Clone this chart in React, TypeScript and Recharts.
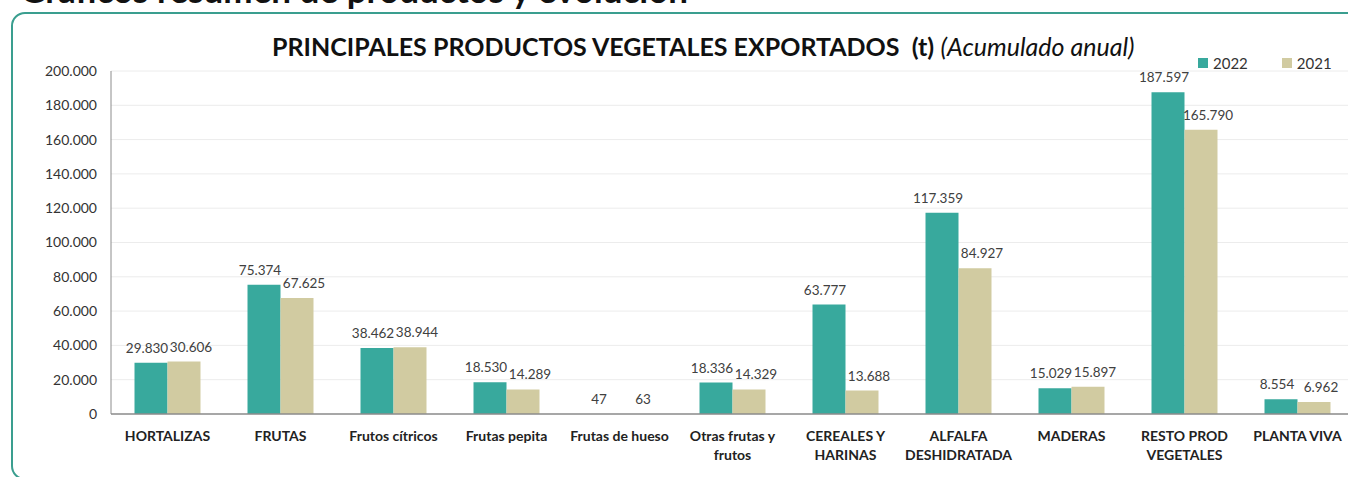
import { BarChart, Bar, XAxis, YAxis, CartesianGrid, LabelList } from 'recharts';

const categories = [
  'HORTALIZAS',
  'FRUTAS',
  'Frutos cítricos',
  'Frutas pepita',
  'Frutas de hueso',
  'Otras frutas y\nfrutos',
  'CEREALES Y\nHARINAS',
  'ALFALFA\nDESHIDRATADA',
  'MADERAS',
  'RESTO PROD\nVEGETALES',
  'PLANTA VIVA',
];
const values2022 = [29830, 75374, 38462, 18530, 47, 18336, 63777, 117359, 15029, 187597, 8554];
const values2021 = [30606, 67625, 38944, 14289, 63, 14329, 13688, 84927, 15897, 165790, 6962];
const yTicks = [0, 20000, 40000, 60000, 80000, 100000, 120000, 140000, 160000, 180000, 200000];

const TEAL = '#38a99d';
const BEIGE = '#d1cba1';
const FONT = "Lato, 'Open Sans', sans-serif";

const fmt = (v: number) => String(v).replace(/\B(?=(\d{3})+(?!\d))/g, '.');

const chartData = categories.map((name, i) => ({
  name,
  y2022: values2022[i],
  y2021: values2021[i],
}));

function CategoryTick({ x, y, payload }: { x?: number; y?: number; payload?: { value: string } }) {
  const lines = (payload?.value ?? '').split('\n');
  return (
    <text x={x} y={y} textAnchor="middle" fontFamily={FONT} fontSize={14} fontWeight={700} fill="#222">
      {lines.map((line, i) => (
        <tspan key={i} x={x} dy={19}>
          {line}
        </tspan>
      ))}
    </text>
  );
}

// value label above a bar, nudged sideways so the two labels of a pair don't collide
const barLabel = (shift: number) =>
  function BarValue(props: { x?: number; y?: number; width?: number; value?: number }) {
    const { x = 0, y = 0, width = 0, value = 0 } = props;
    return (
      <text
        x={x + width / 2 + shift}
        y={y - 10}
        textAnchor="middle"
        fontFamily={FONT}
        fontSize={13.5}
        fill="#404040"
      >
        {fmt(value)}
      </text>
    );
  };

export default function App() {
  return (
    <div
      style={{
        position: 'absolute',
        left: 0,
        top: 0,
        width: 1348,
        height: 477,
        overflow: 'hidden',
        background: '#fff',
        fontFamily: FONT,
      }}
    >
      <div
        style={{
          position: 'absolute',
          left: 20,
          top: -28,
          fontSize: 35,
          lineHeight: '35px',
          fontWeight: 700,
          color: '#111',
          whiteSpace: 'nowrap',
        }}
      >
        Gráficos resumen de productos y evolución
      </div>
      <div
        style={{
          position: 'absolute',
          left: 11,
          top: 12,
          width: 1360,
          height: 464,
          border: '2px solid #3a9e8f',
          borderRadius: 14,
        }}
      />
      <div
        style={{
          position: 'absolute',
          left: 272,
          top: 33,
          fontSize: 25,
          lineHeight: '26px',
          color: '#111',
          whiteSpace: 'nowrap',
        }}
      >
        <span style={{ fontWeight: 700 }}>PRINCIPALES PRODUCTOS VEGETALES EXPORTADOS&nbsp;&nbsp;(t)</span>{' '}
        <span style={{ fontStyle: 'italic' }}>(Acumulado anual)</span>
      </div>
      <div
        style={{
          position: 'absolute',
          left: 1198,
          top: 54,
          fontSize: 15,
          lineHeight: '18px',
          color: '#333',
          display: 'flex',
          alignItems: 'center',
          whiteSpace: 'nowrap',
        }}
      >
        <span style={{ width: 10, height: 10, background: TEAL, display: 'inline-block', marginRight: 5 }} />
        <span style={{ marginRight: 34 }}>2022</span>
        <span style={{ width: 10, height: 10, background: BEIGE, display: 'inline-block', marginRight: 5 }} />
        <span>2021</span>
      </div>
      <div style={{ position: 'absolute', left: 0, top: 0 }}>
        <BarChart
          width={1360}
          height={477}
          data={chartData}
          margin={{ top: 71, right: 6, bottom: 0, left: 0 }}
          barGap={0}
          barCategoryGap="20.8%"
        >
          <CartesianGrid vertical={false} stroke="#ececec" />
          <XAxis
            dataKey="name"
            axisLine={{ stroke: '#8c8c8c', strokeWidth: 1.5 }}
            tickLine={false}
            height={63}
            interval={0}
            tick={<CategoryTick />}
          />
          <YAxis
            width={111}
            domain={[0, 200000]}
            ticks={yTicks}
            tickFormatter={fmt}
            axisLine={{ stroke: '#8c8c8c' }}
            tickLine={false}
            tickMargin={8}
            tick={{ fontSize: 14, fill: '#333', fontFamily: FONT }}
          />
          <Bar dataKey="y2022" fill={TEAL} isAnimationActive={false}>
            <LabelList dataKey="y2022" content={barLabel(-4)} />
          </Bar>
          <Bar dataKey="y2021" fill={BEIGE} isAnimationActive={false}>
            <LabelList dataKey="y2021" content={barLabel(7)} />
          </Bar>
        </BarChart>
      </div>
    </div>
  );
}
